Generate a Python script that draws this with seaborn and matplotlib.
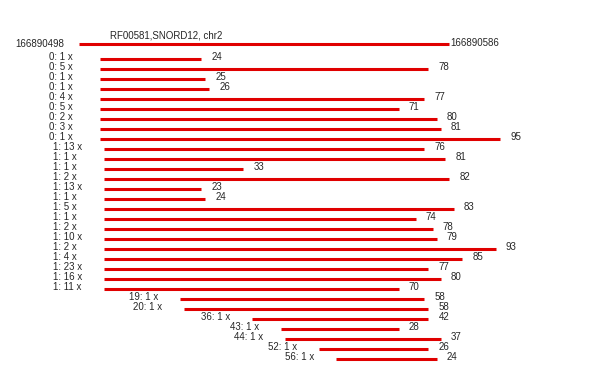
import matplotlib
matplotlib.use("Agg")
import matplotlib.pyplot as plt
import seaborn as sns

title = "RF00581,SNORD12, chr2"
ref_start = 166890498
ref_end = 166890586

offsets = [0, 0, 0, 0, 0, 0, 0, 0, 0,
           1, 1, 1, 1, 1, 1, 1, 1, 1, 1, 1, 1, 1, 1, 1,
           19, 20, 36, 43, 44, 52, 56]
counts = [1, 5, 1, 1, 4, 5, 2, 3, 1,
          13, 1, 1, 2, 13, 1, 5, 1, 2, 10, 2, 4, 23, 16, 11,
          1, 1, 1, 1, 1, 1, 1]
lengths = [24, 78, 25, 26, 77, 71, 80, 81, 95,
           76, 81, 33, 82, 23, 24, 83, 74, 78, 79, 93, 85, 77, 80, 70,
           58, 58, 42, 28, 37, 26, 24]

sns.set_theme(style="white")
plt.rcParams["font.family"] = ["Liberation Sans", "DejaVu Sans"]

fig = plt.figure(figsize=(5.9, 3.8), dpi=100)
ax = fig.add_axes([0, 0, 1, 1])
ax.set_xlim(-23.75, 116.4)
ax.set_ylim(32.07, -5.93)
ax.axis("off")

red = "#e00000"
fs = 7

# reference line on top
ref_x0 = -5
ref_x1 = ref_x0 + (ref_end - ref_start)
ax.hlines(-1.5, ref_x0, ref_x1, color=red, lw=2.2)
ax.text(ref_x0 - 3.5, -1.5, str(ref_start), ha="right", va="center", fontsize=fs)
ax.text(ref_x1 + 0.3, -1.6, str(ref_end), ha="left", va="center", fontsize=fs)
ax.text(2.4, -2.36, title, ha="left", va="center", fontsize=fs)

# reads
for i, (o, c, n) in enumerate(zip(offsets, counts, lengths)):
    ax.hlines(i, o, o + n, color=red, lw=2.2)
    ax.text(o - 12.1, i - 0.28, f"{o}: {c} x", ha="left", va="center", fontsize=fs)
    ax.text(o + n + 2.4, i - 0.28, str(n), ha="left", va="center", fontsize=fs)

fig.savefig("out.png", dpi=100)
